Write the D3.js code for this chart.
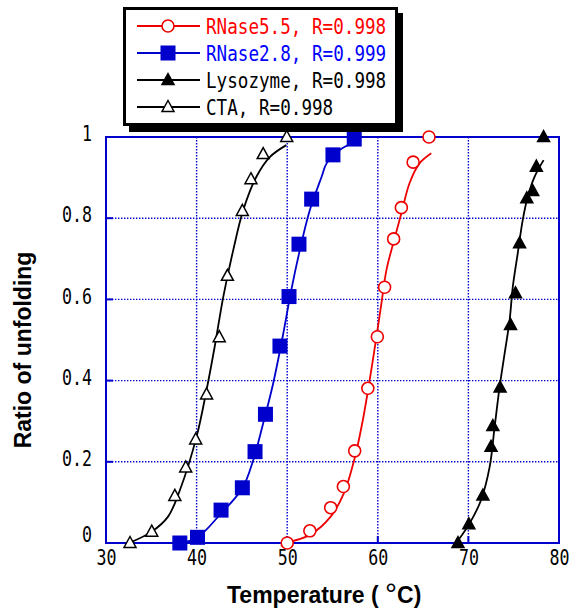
<!DOCTYPE html>
<html>
<head>
<meta charset="UTF-8">
<title>Ratio of unfolding</title>
<style>
    body {
        margin: 0;
        background: #fff;
    }

    .tick-label {
        font-family: "DejaVu Sans Mono", monospace;
        font-size: 20.5px;
        fill: #000;
    }

    .axis-title {
        font-family: "Liberation Sans", Arial, sans-serif;
        font-weight: bold;
        font-size: 23px;
        fill: #000;
    }

    .legend-text {
        font-family: "DejaVu Sans Mono", monospace;
        font-size: 22px;
    }
</style>
</head>
<body>
<script src="https://cdn.jsdelivr.net/npm/d3@7"></script>
<script>
    // measured points [temperature, ratio]
    var rnase55Pts = [[50.0, 0.0], [52.5, 0.03], [54.8, 0.087], [56.2, 0.139], [57.45, 0.227], [58.9, 0.381],
        [59.95, 0.508], [60.75, 0.63], [61.75, 0.749], [62.6, 0.826], [63.9, 0.938], [65.65, 1.0]];
    var rnase28Pts = [[38.15, 0.0], [40.1, 0.014], [42.7, 0.081], [45.05, 0.136], [46.45, 0.225], [47.6, 0.317],
        [49.2, 0.485], [50.2, 0.607], [51.3, 0.736], [52.7, 0.847], [55.05, 0.956], [57.4, 0.995]];
    var lysozymePts = [[68.85, 0.0], [70.05, 0.046], [71.6, 0.117], [72.5, 0.237], [72.7, 0.288], [73.5, 0.383],
        [74.65, 0.537], [75.2, 0.615], [75.65, 0.738], [76.45, 0.849], [77.1, 0.867], [77.5, 0.927], [78.3, 1.0]];
    var ctaPts = [[32.65, 0.0], [35.05, 0.028], [37.6, 0.116], [38.8, 0.186], [39.9, 0.255], [41.1, 0.366],
        [42.5, 0.507], [43.4, 0.658], [45.05, 0.818], [46.0, 0.896], [47.35, 0.958], [49.95, 1.0]];

    // fitted curves
    var rnase55Fit = [[49.9, 0.001], [52.5, 0.02], [54.8, 0.065], [56.25, 0.122], [57.45, 0.209], [58.35, 0.303],
        [59.1, 0.401], [59.85, 0.508], [60.4, 0.59], [60.95, 0.672], [61.7, 0.738], [62.6, 0.812],
        [63.5, 0.886], [64.6, 0.935], [65.9, 0.96]];
    var rnase28Fit = [[38.15, 0.0], [40.0, 0.012], [42.7, 0.073], [45.05, 0.135], [46.25, 0.204], [47.35, 0.295],
        [48.45, 0.393], [49.5, 0.508], [50.45, 0.623], [51.4, 0.722], [52.5, 0.82], [53.8, 0.902],
        [54.35, 0.935], [55.8, 0.968], [57.3, 0.986]];
    var lysozymeFit = [[68.85, 0.006], [70.15, 0.049], [71.4, 0.106], [72.35, 0.188], [72.9, 0.287], [73.45, 0.385],
        [74.0, 0.467], [74.55, 0.549], [74.9, 0.631], [75.45, 0.714], [76.0, 0.796], [76.55, 0.853],
        [77.3, 0.902], [78.3, 0.943]];
    var ctaFit = [[32.65, 0.001], [35.05, 0.028], [36.85, 0.065], [38.15, 0.13], [40.0, 0.262], [41.1, 0.377],
        [42.0, 0.484], [42.95, 0.607], [44.05, 0.722], [45.15, 0.82], [46.6, 0.902], [48.1, 0.951], [49.9, 0.98]];

    var xTicks = [30, 40, 50, 60, 70, 80];
    var yTicks = [0, 0.2, 0.4, 0.6, 0.8, 1];

    var seriesNames = ["RNase5.5, R=0.998", "RNase2.8, R=0.999", "Lysozyme, R=0.998", "CTA, R=0.998"];

    var series = [
        {name: seriesNames[0], pts: rnase55Pts, fit: rnase55Fit, color: "#ee0000", text: "#ff0000", marker: "circle"},
        {name: seriesNames[1], pts: rnase28Pts, fit: rnase28Fit, color: "#0000cc", text: "#0000ff", marker: "square"},
        {name: seriesNames[2], pts: lysozymePts, fit: lysozymeFit, color: "#000", text: "#000", marker: "triFilled"},
        {name: seriesNames[3], pts: ctaPts, fit: ctaFit, color: "#000", text: "#000", marker: "triOpen"}
    ];

    var width = 569, height = 616;
    var plotLeft = 106, plotRight = 559, plotTop = 137, plotBottom = 543;

    var x = d3.scaleLinear().domain([30, 80]).range([plotLeft, plotRight]);
    var y = d3.scaleLinear().domain([0, 1]).range([plotBottom, plotTop]);

    var svg = d3.select("body").append("svg")
        .attr("width", width)
        .attr("height", height);

    // dotted grid
    var grid = svg.append("g")
        .attr("stroke", "#0000cc")
        .attr("stroke-width", 1.4)
        .attr("stroke-dasharray", "1.4,1.6");
    grid.selectAll(".gx")
        .data(xTicks.slice(1, -1))
        .enter().append("line")
        .attr("x1", function(d) { return x(d); })
        .attr("x2", function(d) { return x(d); })
        .attr("y1", plotTop)
        .attr("y2", plotBottom);
    grid.selectAll(".gy")
        .data(yTicks.slice(1, -1))
        .enter().append("line")
        .attr("x1", plotLeft)
        .attr("x2", plotRight)
        .attr("y1", function(d) { return y(d); })
        .attr("y2", function(d) { return y(d); });

    // axes (labels only) + inner ticks
    var xAxis = svg.append("g")
        .attr("transform", "translate(0," + plotBottom + ")")
        .call(d3.axisBottom(x).tickValues(xTicks).tickSize(0).tickPadding(7).tickFormat(d3.format("d")));
    var yAxis = svg.append("g")
        .attr("transform", "translate(" + plotLeft + ",0)")
        .call(d3.axisLeft(y).tickValues(yTicks).tickSize(0).tickPadding(14).tickFormat(function(d) { return String(d); }));

    [xAxis, yAxis].forEach(function(ax) {
        ax.select(".domain").remove();
        ax.attr("font-family", null).attr("font-size", null);
        ax.selectAll("text")
            .attr("class", "tick-label")
            .attr("textLength", function() { return this.textContent.length * 10; })
            .attr("lengthAdjust", "spacingAndGlyphs");
    });
    yAxis.selectAll("text")
        .attr("dy", function(d) { return d === 0 ? "-0.06em" : "0.18em"; });

    svg.append("g").selectAll("line")
        .data(xTicks.slice(1, -1))
        .enter().append("line")
        .attr("x1", function(d) { return x(d); })
        .attr("x2", function(d) { return x(d); })
        .attr("y1", plotBottom)
        .attr("y2", plotBottom - 7)
        .attr("stroke", "#0000cc")
        .attr("stroke-width", 2);
    svg.append("g").selectAll("line")
        .data(yTicks.slice(1, -1))
        .enter().append("line")
        .attr("x1", plotLeft)
        .attr("x2", plotLeft + 7)
        .attr("y1", function(d) { return y(d); })
        .attr("y2", function(d) { return y(d); })
        .attr("stroke", "#0000cc")
        .attr("stroke-width", 2);

    // frame
    svg.append("rect")
        .attr("x", plotLeft)
        .attr("y", plotTop)
        .attr("width", plotRight - plotLeft)
        .attr("height", plotBottom - plotTop)
        .attr("fill", "none")
        .attr("stroke", "#0000cc")
        .attr("stroke-width", 2);

    // markers
    function drawMarker(sel, kind, color) {
        if (kind === "circle") {
            sel.append("circle")
                .attr("r", 6)
                .attr("fill", "#fff")
                .attr("stroke", color)
                .attr("stroke-width", 1.6);
        } else if (kind === "square") {
            sel.append("rect")
                .attr("x", -7.5).attr("y", -7.5)
                .attr("width", 15).attr("height", 15)
                .attr("fill", color);
        } else {
            sel.append("path")
                .attr("d", "M0,-6.5L6,4.5L-6,4.5Z")
                .attr("fill", kind === "triFilled" ? color : "#fff")
                .attr("stroke", color)
                .attr("stroke-width", 1.5)
                .attr("stroke-linejoin", "miter");
        }
    }

    var line = d3.line()
        .x(function(d) { return x(d[0]); })
        .y(function(d) { return y(d[1]); })
        .curve(d3.curveCatmullRom);

    series.forEach(function(s) {
        svg.append("path")
            .datum(s.fit)
            .attr("d", line)
            .attr("fill", "none")
            .attr("stroke", s.color)
            .attr("stroke-width", 1.8);

        svg.append("g").selectAll("g")
            .data(s.pts)
            .enter().append("g")
            .attr("transform", function(d) { return "translate(" + x(d[0]) + "," + y(d[1]) + ")"; })
            .each(function() { drawMarker(d3.select(this), s.marker, s.color); });
    });

    // legend
    var legend = svg.append("g");
    legend.append("rect")
        .attr("x", 129).attr("y", 13)
        .attr("width", 274).attr("height", 119)
        .attr("fill", "#000");
    legend.append("rect")
        .attr("x", 124.5).attr("y", 8.5)
        .attr("width", 272).attr("height", 116)
        .attr("fill", "#fff")
        .attr("stroke", "#000")
        .attr("stroke-width", 3);

    var rows = legend.selectAll(".row")
        .data(series)
        .enter().append("g")
        .attr("class", "row")
        .attr("transform", function(d, i) { return "translate(0," + (26 + i * 27) + ")"; });

    rows.append("line")
        .attr("x1", 137).attr("x2", 200)
        .attr("stroke", function(d) { return d.color; })
        .attr("stroke-width", 1.8);
    rows.append("g")
        .attr("transform", "translate(168,0)")
        .each(function(d) { drawMarker(d3.select(this), d.marker, d.color); });
    rows.append("text")
        .attr("class", "legend-text")
        .attr("x", 206)
        .attr("y", 8)
        .attr("fill", function(d) { return d.text; })
        .attr("textLength", function(d) { return d.name.length * 10.6; })
        .attr("lengthAdjust", "spacingAndGlyphs")
        .text(function(d) { return d.name; });

    // axis titles
    var xt = svg.append("text")
        .attr("class", "axis-title")
        .attr("x", 227)
        .attr("y", 603);
    xt.append("tspan").text("Temperature (  ");
    xt.append("tspan").attr("dy", 1).attr("font-size", 30).attr("font-weight", "normal").text("°");
    xt.append("tspan").attr("dy", -1).text("C)");

    svg.append("text")
        .attr("class", "axis-title")
        .attr("transform", "translate(31,350) rotate(-90)")
        .attr("text-anchor", "middle")
        .text("Ratio of unfolding");
</script>
</body>
</html>
